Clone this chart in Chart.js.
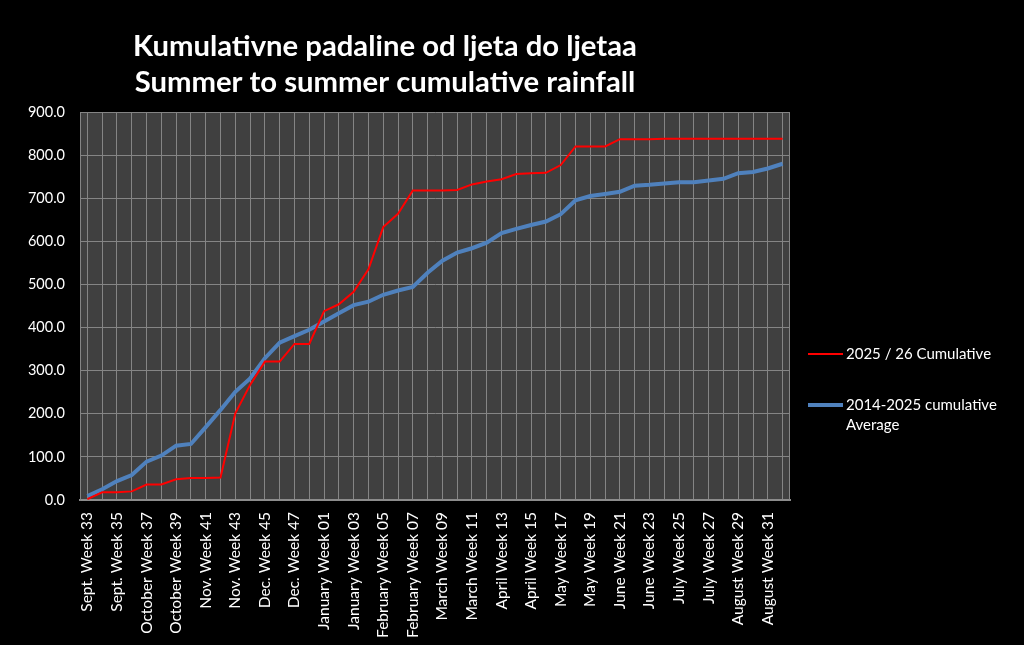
<!DOCTYPE html>
<html><head><meta charset="utf-8">
<script src="https://cdn.jsdelivr.net/npm/chart.js@4.4.1/dist/chart.umd.min.js"></script>
<style>html,body{margin:0;padding:0;background:#000;}#wrap{width:1024px;height:645px;position:relative;}</style>
</head><body><div id="wrap"><canvas id="c"></canvas></div>
<script>
const titleLines = ['Kumulativne padaline od ljeta do ljetaa', 'Summer to summer cumulative rainfall'];
const categories = [
  'Sept. Week 33','Sept. Week 34','Sept. Week 35','Sept. Week 36',
  'October Week 37','October Week 38','October Week 39','October Week 40',
  'Nov. Week 41','Nov. Week 42','Nov. Week 43','Nov. Week 44',
  'Dec. Week 45','Dec. Week 46','Dec. Week 47','Dec. Week 48',
  'January Week 01','January Week 02','January Week 03','January Week 04',
  'February Week 05','February Week 06','February Week 07','February Week 08',
  'March Week 09','March Week 10','March Week 11','March Week 12',
  'April Week 13','April Week 14','April Week 15','April Week 16',
  'May Week 17','May Week 18','May Week 19','May Week 20',
  'June Week 21','June Week 22','June Week 23','June Week 24',
  'July Week 25','July Week 26','July Week 27','July Week 28',
  'August Week 29','August Week 30','August Week 31','August Week 32'
];
const seriesNames = ['2025 / 26 Cumulative', '2014-2025 cumulative Average'];
const current2025 = [2,18,18,20,36,36,48,51,51,52,201,267,321,321,362,362,
  438,454,483,535,633,664,718,718,718,719,732,739,744,756,758,759,
  777,820,820,820,837,837,837,838,838,838,838,838,838,838,838,838];
const average2014 = [9,25,44,58,89,103,126,130,169,209,251,282,329,365,380,395,
  414,433,452,460,476,486,494,527,555,574,584,597,619,629,638,646,
  663,695,705,710,715,729,731,734,737,737,741,745,758,761,769,780];
const yMin = 0, yMax = 900, yStep = 100;

const FONT = 'Lato, "Open Sans", sans-serif';
const GRID = '#858585';

const decor = {
  id: 'decor',
  beforeDraw(chart) {
    const {ctx, chartArea: a} = chart;
    ctx.save();
    ctx.fillStyle = '#000';
    ctx.fillRect(0, 0, chart.width, chart.height);
    ctx.fillStyle = '#404040';
    ctx.fillRect(a.left, a.top, a.right - a.left, a.bottom - a.top);
    ctx.restore();
  },
  afterDraw(chart) {
    const {ctx, chartArea: a} = chart;
    ctx.save();
    ctx.strokeStyle = GRID; ctx.lineWidth = 1;
    ctx.beginPath(); ctx.moveTo(Math.round(a.right) - 0.5, a.top); ctx.lineTo(Math.round(a.right) - 0.5, a.bottom); ctx.stroke();
    // title
    ctx.fillStyle = '#fff';
    ctx.textAlign = 'center'; ctx.textBaseline = 'middle';
    let fs = 26;
    ctx.font = 'bold ' + fs + 'px ' + FONT;
    const w = ctx.measureText(titleLines[0]).width;
    fs = fs * 504 / w;
    ctx.font = 'bold ' + fs.toFixed(2) + 'px ' + FONT;
    ctx.fillText(titleLines[0], 385, 47);
    ctx.fillText(titleLines[1], 385, 83);
    // legend
    ctx.font = '15px ' + FONT;
    ctx.textAlign = 'left';
    const items = chart.data.datasets;
    const ys = [354, 405];
    items.forEach((ds, i) => {
      const y = ys[i];
      ctx.strokeStyle = ds.borderColor; ctx.lineWidth = ds.borderWidth; ctx.lineCap = 'butt';
      ctx.beginPath(); ctx.moveTo(808, y); ctx.lineTo(843, y); ctx.stroke();
      const words = ds.label.split(' ');
      const lines = []; let cur = '';
      words.forEach(wd => {
        const t = cur ? cur + ' ' + wd : wd;
        if (ctx.measureText(t).width > 168 && cur) { lines.push(cur); cur = wd; } else cur = t;
      });
      if (cur) lines.push(cur);
      ctx.fillStyle = '#fff';
      lines.forEach((ln, k) => ctx.fillText(ln, 846, y + k * 20));
    });
    ctx.restore();
  }
};

new Chart(document.getElementById('c'), {
  type: 'line',
  data: {
    labels: categories,
    datasets: [
      { label: seriesNames[0], data: current2025, borderColor: '#ff0000', borderWidth: 2, pointRadius: 0, tension: 0, fill: false },
      { label: seriesNames[1], data: average2014, borderColor: '#4f81bd', borderWidth: 4, pointRadius: 0, tension: 0, fill: false }
    ]
  },
  options: {
    responsive: true, maintainAspectRatio: false, animation: false,
    layout: { padding: { top: 112, right: 234, left: 0, bottom: 0 } },
    plugins: { legend: { display: false }, title: { display: false }, tooltip: { enabled: false } },
    scales: {
      x: {
        type: 'category', offset: true,
        grid: { offset: false, color: GRID, lineWidth: 1, drawTicks: false },
        border: { display: true, color: '#8c8c8c', width: 2 },
        ticks: {
          autoSkip: false, maxRotation: 90, minRotation: 90, padding: 12,
          color: '#fff', font: { family: FONT, size: 15.5 },
          callback: function(v, i) { return i % 2 === 0 ? this.getLabelForValue(v) : ''; }
        },
        afterFit(s) { s.height = 145; }
      },
      y: {
        min: yMin, max: yMax,
        grid: { color: GRID, lineWidth: 1, drawTicks: false },
        border: { display: true, color: GRID, width: 1 },
        ticks: { stepSize: yStep, padding: 15, color: '#fff', font: { family: FONT, size: 14.5 },
          callback: v => Number(v).toFixed(1) },
        afterFit(s) { s.width = 80; }
      }
    }
  },
  plugins: [decor]
});
</script></body></html>
